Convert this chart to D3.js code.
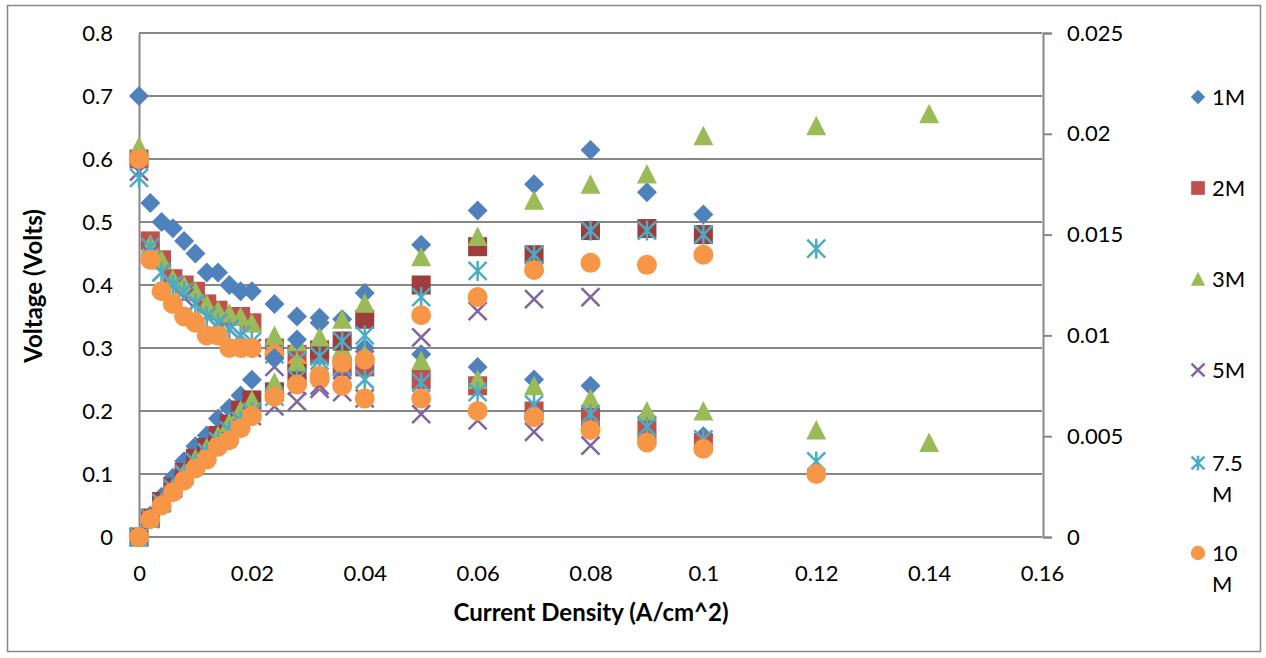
<!DOCTYPE html>
<html>
<head>
<meta charset="utf-8">
<script src="https://cdn.jsdelivr.net/npm/d3@7"></script>
<style>
  body { margin: 0; background: #fff; }
  svg { display: block; font-family: Lato, "Open Sans", sans-serif; }
</style>
</head>
<body>
<div id="chart"></div>
<script>
// current density steps (A/cm^2)
var cur = [0, 0.002, 0.004, 0.006, 0.008, 0.01, 0.012, 0.014, 0.016, 0.018, 0.02,
           0.024, 0.028, 0.032, 0.036, 0.04, 0.05, 0.06, 0.07, 0.08, 0.09, 0.1];
var cur3M = cur.concat([0.12, 0.14]);
var cur5M = cur.slice(0, 20);
var cur75M = cur.concat([0.12]);
var cur10M = cur.concat([0.12]);

// voltage (left axis)
var volt1M = [0.70, 0.53, 0.50, 0.49, 0.47, 0.45, 0.42, 0.42, 0.40, 0.39, 0.39, 0.37, 0.35, 0.34, 0.30, 0.30, 0.29, 0.27, 0.25, 0.24, 0.19, 0.16];
var volt2M = [0.60, 0.47, 0.44, 0.41, 0.40, 0.39, 0.37, 0.36, 0.35, 0.35, 0.34, 0.30, 0.29, 0.29, 0.27, 0.27, 0.25, 0.24, 0.20, 0.19, 0.17, 0.15];
var volt3M = [0.62, 0.465, 0.44, 0.41, 0.40, 0.39, 0.37, 0.36, 0.355, 0.35, 0.34, 0.32, 0.31, 0.31, 0.30, 0.29, 0.28, 0.25, 0.24, 0.22, 0.20, 0.20, 0.17, 0.15];
var volt5M = [0.58, 0.45, 0.42, 0.40, 0.38, 0.37, 0.35, 0.34, 0.33, 0.32, 0.30, 0.27, 0.24, 0.235, 0.23, 0.22, 0.195, 0.185, 0.167, 0.145];
var volt75M = [0.57, 0.46, 0.42, 0.40, 0.39, 0.37, 0.35, 0.34, 0.33, 0.32, 0.31, 0.29, 0.28, 0.28, 0.27, 0.25, 0.245, 0.23, 0.21, 0.195, 0.175, 0.155, 0.12];
var volt10M = [0.60, 0.44, 0.39, 0.37, 0.35, 0.34, 0.32, 0.32, 0.30, 0.30, 0.30, 0.29, 0.27, 0.25, 0.24, 0.22, 0.22, 0.20, 0.19, 0.17, 0.15, 0.14, 0.10];

// power density (right axis)
var pow1M = [0, 0.00106, 0.0020, 0.00294, 0.00376, 0.0045, 0.00504, 0.00588, 0.0064, 0.00702, 0.0078, 0.00888, 0.0098, 0.01088, 0.0108, 0.0121, 0.0145, 0.0162, 0.0175, 0.0192, 0.0171, 0.016];
var pow2M = [0, 0.00094, 0.00176, 0.00246, 0.0032, 0.0039, 0.00444, 0.00504, 0.0056, 0.0063, 0.0068, 0.0072, 0.00812, 0.00928, 0.00972, 0.0108, 0.0125, 0.0144, 0.0140, 0.0152, 0.0153, 0.0150];
var pow3M = [0, 0.00093, 0.00176, 0.00246, 0.0032, 0.0039, 0.00444, 0.00504, 0.00568, 0.0063, 0.0068, 0.00768, 0.00868, 0.00992, 0.0108, 0.0116, 0.0139, 0.0149, 0.0167, 0.0175, 0.0180, 0.0199, 0.0204, 0.0210];
var pow5M = [0, 0.0009, 0.00168, 0.0024, 0.00304, 0.0037, 0.0042, 0.00476, 0.00528, 0.00576, 0.006, 0.00648, 0.00672, 0.00752, 0.00828, 0.0088, 0.0099, 0.0112, 0.0118, 0.0119];
var pow75M = [0, 0.00092, 0.00168, 0.0024, 0.00312, 0.0037, 0.0042, 0.00476, 0.00528, 0.00576, 0.0062, 0.00696, 0.00784, 0.00896, 0.00972, 0.0100, 0.0119, 0.0132, 0.0140, 0.0152, 0.0152, 0.0150, 0.0143];
var pow10M = [0, 0.00088, 0.00156, 0.00222, 0.0028, 0.0034, 0.00384, 0.00448, 0.0048, 0.0054, 0.006, 0.00696, 0.00756, 0.0080, 0.00864, 0.0088, 0.0110, 0.0119, 0.01325, 0.0136, 0.0135, 0.0140, null];

var seriesNames = ["1M", "2M", "3M", "5M", "7.5 M", "10 M"];
var legendLines = [["1M"], ["2M"], ["3M"], ["5M"], ["7.5", "M"], ["10", "M"]];
var xTicks = [0, 0.02, 0.04, 0.06, 0.08, 0.1, 0.12, 0.14, 0.16];
var leftTicks = [0, 0.1, 0.2, 0.3, 0.4, 0.5, 0.6, 0.7, 0.8];
var rightTicks = [0, 0.005, 0.01, 0.015, 0.02, 0.025];

var series = [
  {name: seriesNames[0], x: cur,    v: volt1M,  p: pow1M,  shape: "diamond",  color: "#4F81BD", pcolor: "#4F81BD"},
  {name: seriesNames[1], x: cur,    v: volt2M,  p: pow2M,  shape: "square",   color: "#C0504D", pcolor: "#9E3D3B"},
  {name: seriesNames[2], x: cur3M,  v: volt3M,  p: pow3M,  shape: "triangle", color: "#9BBB59", pcolor: "#9BBB59"},
  {name: seriesNames[3], x: cur5M,  v: volt5M,  p: pow5M,  shape: "x",        color: "#8064A2", pcolor: "#8064A2"},
  {name: seriesNames[4], x: cur75M, v: volt75M, p: pow75M, shape: "star",     color: "#4BACC6", pcolor: "#4BACC6"},
  {name: seriesNames[5], x: cur10M, v: volt10M, p: pow10M, shape: "circle",   color: "#F79646", pcolor: "#F79646"}
];

var W = 1266, H = 658;
var x = d3.scaleLinear().domain([0, 0.16]).range([139, 1042]);
var yL = d3.scaleLinear().domain([0, 0.8]).range([537, 33]);
var yR = d3.scaleLinear().domain([0, 0.025]).range([537, 33]);
var fmt = function(d) { return String(+d.toFixed(4)); };
var gridCol = "#878787";

var svg = d3.select("#chart").append("svg").attr("width", W).attr("height", H);

// chart border
svg.append("rect").attr("x", 7.5).attr("y", 5.5).attr("width", 1253).attr("height", 646)
  .attr("fill", "#fff").attr("stroke", "#878787").attr("stroke-width", 1.5);

// horizontal gridlines
svg.append("g").selectAll("line").data(leftTicks).enter().append("line")
  .attr("x1", 139).attr("x2", 1042)
  .attr("y1", function(d) { return yL(d); }).attr("y2", function(d) { return yL(d); })
  .attr("stroke", gridCol).attr("stroke-width", 2);

// left axis
var gl = svg.append("g").attr("transform", "translate(139,0)")
  .call(d3.axisLeft(yL).tickValues(leftTicks).tickSize(0).tickPadding(26).tickFormat(fmt));
gl.select(".domain").attr("stroke", gridCol).attr("stroke-width", 2);

// right axis
var gr = svg.append("g").attr("transform", "translate(1043,0)")
  .call(d3.axisRight(yR).tickValues(rightTicks).tickSize(9).tickPadding(15).tickFormat(fmt));
gr.select(".domain").attr("stroke", gridCol).attr("stroke-width", 2);
gr.selectAll(".tick line").attr("stroke", gridCol).attr("stroke-width", 2);

// bottom axis labels
var gb = svg.append("g").attr("transform", "translate(0,537)")
  .call(d3.axisBottom(x).tickValues(xTicks).tickSize(0).tickPadding(28).tickFormat(fmt));
gb.select(".domain").remove();

svg.selectAll(".tick text").attr("font-size", 22).attr("font-family", "Lato").attr("fill", "#000");

// axis titles
svg.append("text").attr("transform", "translate(42,286) rotate(-90)")
  .attr("text-anchor", "middle").attr("font-size", 24).attr("font-weight", "bold")
  .text("Voltage (Volts)");
svg.append("text").attr("x", 591).attr("y", 621)
  .attr("text-anchor", "middle").attr("font-size", 24).attr("font-weight", "bold")
  .text("Current Density (A/cm^2)");

function marker(sel, shape, color, s) {
  if (shape === "diamond") {
    sel.append("path").attr("d", "M0," + (-10 * s) + "L" + (10 * s) + ",0L0," + (10 * s) + "L" + (-10 * s) + ",0Z").attr("fill", color);
  } else if (shape === "square") {
    sel.append("rect").attr("x", -9.5 * s).attr("y", -9.5 * s).attr("width", 19 * s).attr("height", 19 * s).attr("fill", color);
  } else if (shape === "triangle") {
    sel.append("path").attr("d", "M0," + (-10 * s) + "L" + (10 * s) + "," + (9.5 * s) + "L" + (-10 * s) + "," + (9.5 * s) + "Z").attr("fill", color);
  } else if (shape === "circle") {
    sel.append("circle").attr("r", 10 * s).attr("fill", color);
  } else {
    var a = 9 * s;
    var d = "M" + (-a) + "," + (-a) + "L" + a + "," + a + "M" + a + "," + (-a) + "L" + (-a) + "," + a;
    if (shape === "star") d += "M0," + (-10 * s) + "L0," + (10 * s);
    sel.append("path").attr("d", d).attr("fill", "none").attr("stroke", color).attr("stroke-width", 2.5);
  }
}

// voltage series (primary axis)
series.forEach(function(s) {
  var pts = s.x.map(function(c, i) { return {c: c, val: s.v[i]}; });
  svg.append("g").selectAll("g").data(pts).enter().append("g")
    .attr("transform", function(d) { return "translate(" + x(d.c) + "," + yL(d.val) + ")"; })
    .each(function() { marker(d3.select(this), s.shape, s.color, 1); });
});

// power density series (secondary axis)
series.forEach(function(s) {
  var pts = s.x.map(function(c, i) { return {c: c, val: s.p[i]}; })
    .filter(function(d) { return d.val !== null; });
  svg.append("g").selectAll("g").data(pts).enter().append("g")
    .attr("transform", function(d) { return "translate(" + x(d.c) + "," + yR(d.val) + ")"; })
    .each(function() { marker(d3.select(this), s.shape, s.pcolor, 1); });
});

// legend
var legendY = [97, 188, 279, 370, 463, 553];
series.forEach(function(s, i) {
  var g = svg.append("g").attr("transform", "translate(1198," + legendY[i] + ")");
  marker(g, s.shape, s.color, 0.72);
  legendLines[i].forEach(function(t, j) {
    g.append("text").attr("x", 14).attr("y", j * 31).attr("dy", "0.35em")
      .attr("font-size", 22).text(t);
  });
});
</script>
</body>
</html>
